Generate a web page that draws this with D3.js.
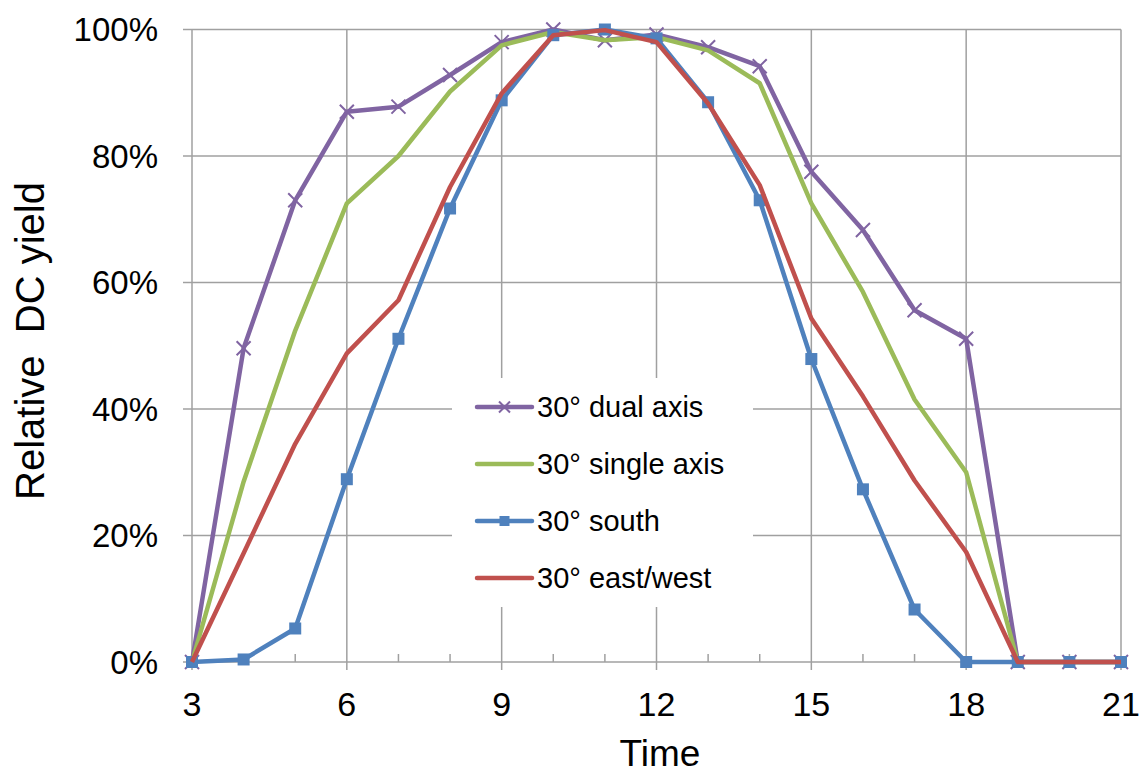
<!DOCTYPE html>
<html>
<head>
<meta charset="utf-8" />
<script src="https://d3js.org/d3.v7.min.js"></script>
<style>
  body { margin: 0; background: #fff; }
  text { font-family: "Liberation Sans", Arial, sans-serif; fill: #000; }
  .grid line { stroke: #a0a0a0; stroke-width: 1.5px; }
  .line { fill: none; stroke-width: 4.5px; stroke-linejoin: round; }
</style>
</head>
<body>
<svg width="1143" height="776"></svg>
<script>
  // hours of day
  var hours = [3, 4, 5, 6, 7, 8, 9, 10, 11, 12, 13, 14, 15, 16, 17, 18, 19, 20, 21];

  // relative DC yield per hour
  var dualAxis   = [0, 0.496, 0.73, 0.87, 0.878, 0.928, 0.98, 1.0, 0.983, 0.992, 0.972, 0.942, 0.775, 0.683, 0.556, 0.511, 0, 0, 0];
  var singleAxis = [0, 0.285, 0.524, 0.725, 0.80, 0.902, 0.975, 0.996, 0.983, 0.988, 0.967, 0.915, 0.725, 0.585, 0.415, 0.30, 0, 0, 0];
  var south      = [0, 0.004, 0.053, 0.289, 0.511, 0.717, 0.888, 0.991, 1.0, 0.986, 0.885, 0.73, 0.479, 0.273, 0.083, 0, 0, 0, 0];
  var eastWest   = [0, 0.172, 0.345, 0.488, 0.572, 0.751, 0.899, 0.991, 0.999, 0.98, 0.883, 0.754, 0.543, 0.42, 0.287, 0.174, 0, 0, 0];

  var seriesNames = ["30\u00b0 dual axis", "30\u00b0 single axis", "30\u00b0 south", "30\u00b0 east/west"];
  var seriesColors = ["#8064a2", "#9bbb59", "#4f81bd", "#c0504d"];
  var seriesMarkers = ["x", "none", "square", "none"];

  var xTicks = [3, 6, 9, 12, 15, 18, 21];
  var yTicks = [0, 0.2, 0.4, 0.6, 0.8, 1.0];

  var svg = d3.select("svg");

  var x = d3.scaleLinear().domain([3, 21]).range([192, 1121]);
  var y = d3.scaleLinear().domain([0, 1]).range([662, 29.5]);

  var series = [dualAxis, singleAxis, south, eastWest].map(function(vals, i) {
    return {
      name: seriesNames[i],
      color: seriesColors[i],
      marker: seriesMarkers[i],
      values: hours.map(function(h, j) { return {hour: h, value: vals[j]}; })
    };
  });

  // grid
  var grid = svg.append("g").attr("class", "grid");
  grid.selectAll(".hgrid")
    .data(yTicks.filter(function(d) { return d > 0; }))
    .enter().append("line")
    .attr("x1", x(3)).attr("x2", x(21))
    .attr("y1", function(d) { return y(d); })
    .attr("y2", function(d) { return y(d); });
  grid.selectAll(".vgrid")
    .data(xTicks)
    .enter().append("line")
    .attr("x1", function(d) { return x(d); })
    .attr("x2", function(d) { return x(d); })
    .attr("y1", y(1)).attr("y2", y(0) + 8);

  // y tick marks (outside)
  grid.selectAll(".ytick")
    .data(yTicks)
    .enter().append("line")
    .attr("x1", x(3) - 9).attr("x2", x(3))
    .attr("y1", function(d) { return y(d); })
    .attr("y2", function(d) { return y(d); });

  // minor x ticks (inside)
  grid.selectAll(".xminor")
    .data(hours.filter(function(h) { return xTicks.indexOf(h) < 0; }))
    .enter().append("line")
    .attr("x1", function(d) { return x(d); })
    .attr("x2", function(d) { return x(d); })
    .attr("y1", y(0) - 8).attr("y2", y(0));

  // x axis line
  grid.append("line")
    .attr("x1", x(3)).attr("x2", x(21))
    .attr("y1", y(0)).attr("y2", y(0));

  // tick labels
  svg.append("g").selectAll("text")
    .data(yTicks)
    .enter().append("text")
    .attr("x", 158)
    .attr("y", function(d) { return y(d); })
    .attr("dy", "0.36em")
    .attr("text-anchor", "end")
    .style("font-size", "33px")
    .text(function(d) { return Math.round(d * 100) + "%"; });

  svg.append("g").selectAll("text")
    .data(xTicks)
    .enter().append("text")
    .attr("x", function(d) { return x(d); })
    .attr("y", 716)
    .attr("text-anchor", "middle")
    .style("font-size", "34px")
    .text(function(d) { return d; });

  // axis titles
  svg.append("text")
    .attr("x", 660).attr("y", 766)
    .attr("text-anchor", "middle")
    .style("font-size", "37px")
    .text("Time");

  svg.append("text")
    .attr("transform", "translate(44,341) rotate(-90)")
    .attr("text-anchor", "middle")
    .style("font-size", "40px")
    .style("white-space", "pre")
    .text("Relative  DC yield");

  // legend box (drawn before the lines so it hides the grid only)
  var legendBox = {x: 452, y: 378, w: 301, h: 229};
  svg.append("rect")
    .attr("x", legendBox.x).attr("y", legendBox.y)
    .attr("width", legendBox.w).attr("height", legendBox.h)
    .attr("fill", "#fff");

  var line = d3.line()
    .x(function(d) { return x(d.hour); })
    .y(function(d) { return y(d.value); });

  function drawMarker(g, kind, color, size) {
    if (kind === "square") {
      g.append("rect")
        .attr("x", -size / 2).attr("y", -size / 2)
        .attr("width", size).attr("height", size)
        .attr("fill", color);
    } else if (kind === "x") {
      var s = size / 2;
      g.append("path")
        .attr("d", "M" + (-s) + "," + (-s) + "L" + s + "," + s + "M" + (-s) + "," + s + "L" + s + "," + (-s))
        .attr("stroke", color)
        .attr("stroke-width", 2)
        .attr("fill", "none");
    }
  }

  var plot = svg.append("g");
  series.forEach(function(s) {
    var g = plot.append("g");
    g.append("path")
      .attr("class", "line")
      .attr("d", line(s.values))
      .style("stroke", s.color);
    if (s.marker !== "none") {
      g.selectAll(".m")
        .data(s.values)
        .enter().append("g")
        .attr("transform", function(d) { return "translate(" + x(d.hour) + "," + y(d.value) + ")"; })
        .each(function() { drawMarker(d3.select(this), s.marker, s.color, s.marker === "x" ? 14 : 12); });
    }
  });

  // legend
  var legend = svg.append("g").selectAll("g")
    .data(series)
    .enter().append("g")
    .attr("transform", function(d, i) { return "translate(477," + (407 + i * 57) + ")"; });

  legend.append("line")
    .attr("x1", 0).attr("x2", 55)
    .attr("stroke", function(d) { return d.color; })
    .attr("stroke-width", 4.5)
    .attr("stroke-linecap", "round");

  legend.each(function(d) {
    if (d.marker !== "none") {
      var m = d3.select(this).append("g").attr("transform", "translate(27.5,0)");
      drawMarker(m, d.marker, d.color, d.marker === "x" ? 11 : 10);
    }
  });

  legend.append("text")
    .attr("x", 60)
    .attr("dy", "0.36em")
    .style("font-size", "29px")
    .text(function(d) { return d.name; });
</script>
</body>
</html>
